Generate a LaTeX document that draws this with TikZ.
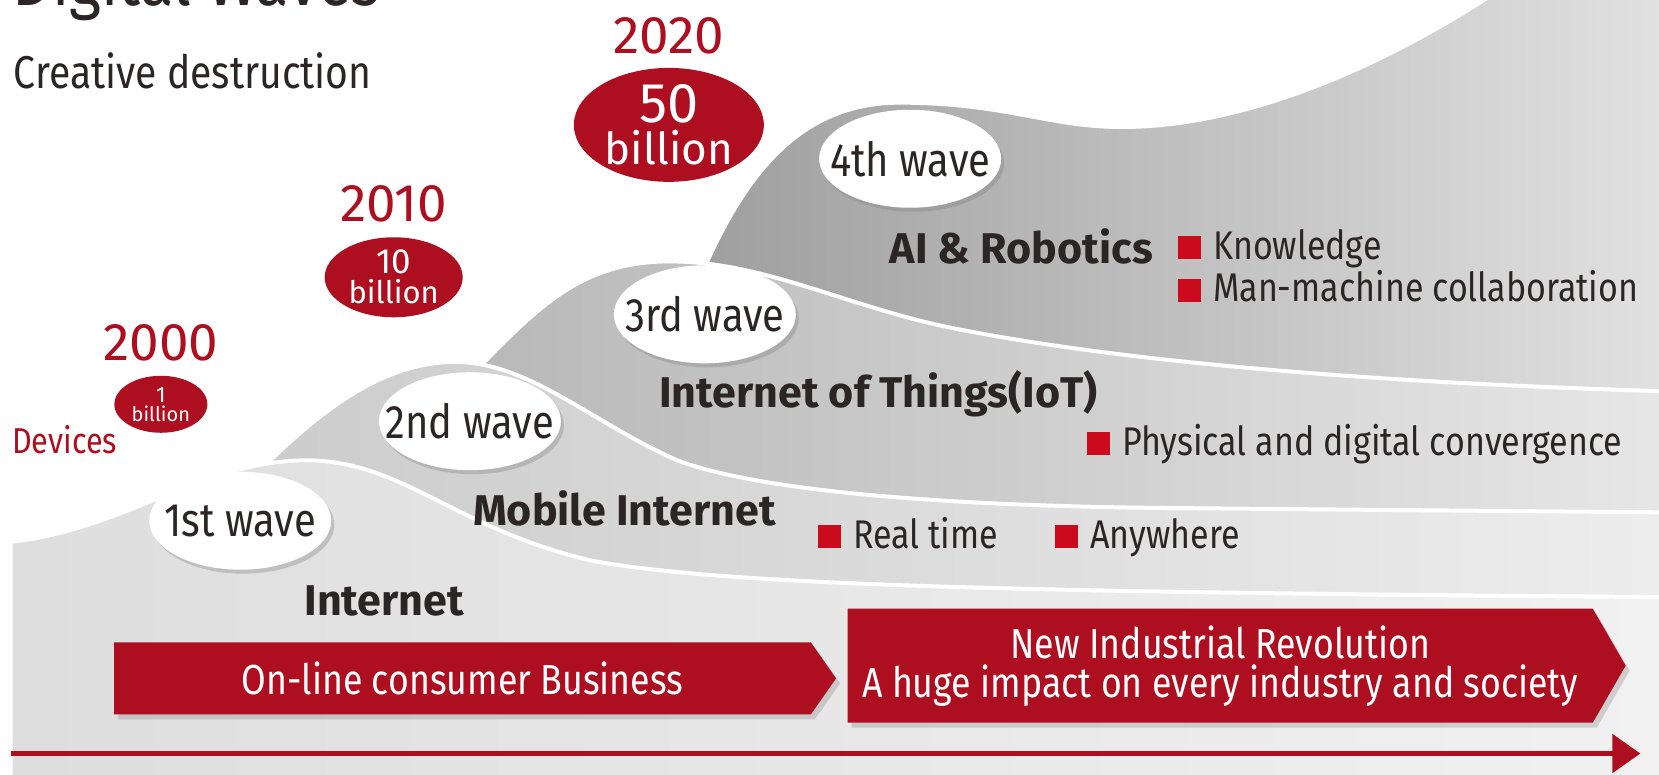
\documentclass[tikz,border=0pt]{standalone}
\usepackage{fontspec}
\setmainfont[FakeStretch=0.85]{Fira Sans}
\newfontfamily\breit{Fira Sans}
\usepackage{xcolor}
\usepackage{tikz}
\usetikzlibrary{shapes.geometric}
\usetikzlibrary{shapes.symbols}
\usetikzlibrary{shadows}
\usetikzlibrary{arrows.meta}
\usetikzlibrary{positioning}
\definecolor{fjred}{HTML}{AE0F20}
\definecolor{punktrot}{HTML}{CC0A1E}
\definecolor{schrift}{HTML}{2B2525}
\newcommand{\Gr}[1]{\fontsize{#1}{#1}\selectfont}
\newcommand{\Gs}[2]{\fontsize{#1}{#2}\selectfont}
\newcommand{\Kasten}{\textcolor{punktrot}{\rule{23pt}{23pt}}\hspace{12pt}}
\newcommand{\Mitte}[1]{\makebox[0pt]{#1}}
\tikzset{
  Welle/.style={draw=white, line width=4pt}, % Wellenflaechen
  Blase/.style={ellipse, fill=white, text=schrift, font=\Gr{47}, inner sep=0pt,
    minimum width=182pt, minimum height=98pt,
    drop shadow={opacity=.35, shadow xshift=3pt, shadow yshift=-4pt}}, % weisse Ellipsen
  Zahl/.style={ellipse, fill=fjred, text=white, align=center, inner sep=0pt}, % rote Ellipsen
  Jahr/.style={text=fjred, font=\breit\Gr{53}, inner sep=0pt}, % Jahreszahlen
  Titel/.style={text=schrift, font=\breit\bfseries\Gr{43}, inner sep=0pt}, % Wellennamen
  Punkt/.style={text=schrift, font=\Gr{40}, inner sep=0pt, anchor=base west}, % Stichpunkte
  Band/.style={signal, signal to=east, fill=fjred, text=white, align=center, inner sep=0pt,
    font=\Gs{42}{39}, drop shadow={opacity=.3, shadow xshift=4pt, shadow yshift=-5pt}} % rote Pfeile
}

\begin{document}
\begin{tikzpicture}[x=1.0583pt, y=-1.0583pt, >=latex]
\useasboundingbox (0,0) rectangle (1659pt,-774pt);

%Wellen
\path[Welle, left color=black!38, right color=black!9]
  (650,290) .. controls (690,190) and (740,97) .. (850,97)
  .. controls (950,97) and (990,120) .. (1060,120)
  .. controls (1180,120) and (1310,60) .. (1410,-5)
  -- (1670,-5) -- (1670,420) -- (650,420) -- cycle;
\path[Welle, left color=black!28, right color=black!8]
  (430,370) .. controls (500,300) and (540,248) .. (630,247)
  .. controls (720,246) and (800,290) .. (900,310)
  .. controls (1050,340) and (1300,365) .. (1670,372)
  -- (1670,600) -- (430,600) -- cycle;
\path[Welle, left color=black!20, right color=black!6]
  (240,450) .. controls (300,390) and (360,342) .. (430,342)
  .. controls (500,342) and (560,400) .. (640,435)
  .. controls (720,465) and (900,478) .. (1100,480)
  -- (1670,485) -- (1670,700) -- (240,700) -- cycle;
\path[Welle, left color=black!13, right color=black!5]
  (10,512) .. controls (120,500) and (190,435) .. (290,435)
  .. controls (380,435) and (430,500) .. (560,530)
  .. controls (700,555) and (1000,560) .. (1670,565)
  -- (1670,790) -- (10,790) -- cycle;

%Ueberschrift
\node[anchor=base west, text=schrift, font=\Gr{72}, inner sep=0pt] (Kopf) at (12,5) {Digital Waves};
\node[anchor=base west, text=schrift, font=\Gr{46}, inner sep=0pt] (Unterkopf) at (13,84) {Creative destruction};

%Geraete
\node[Zahl, minimum width=190pt, minimum height=110pt, font=\breit\Gs{44}{42}] (Z2020) at (632,118)
  {{\Gs{56}{42}50}\\billion};
\node[Zahl, minimum width=138pt, minimum height=80pt, font=\breit\Gs{31}{30}] (Z2010) at (372,262)
  {{\Gs{35}{30}10}\\billion};
\node[Zahl, minimum width=93pt, minimum height=57pt, font=\breit\Gs{20}{19}] (Z2000) at (152,382)
  {{\Gs{22}{19}1}\\billion};
\node[Jahr, above=13pt of Z2020] (J2020) {2020};
\node[Jahr, above=15pt of Z2010] (J2010) {2010};
\node[Jahr, above=14pt of Z2000] (J2000) {2000};
\node[text=fjred, font=\Gr{36}, inner sep=0pt] (Geraete) at (61,415) {Devices};

%Wellenblasen
\node[Blase] (W4) at (860,150) {\Mitte{4th wave}};
\node[Blase] (W3) at (666,297) {\Mitte{3rd wave}};
\node[Blase] (W2) at (444,398) {\Mitte{2nd wave}};
\node[Blase] (W1) at (227,492) {\Mitte{1st wave}};

%Beschriftungen
\node[Titel] (KI) at (965,233) {AI \& Robotics};
\node[Titel] (IoT) at (830,372) {Internet of Things(IoT)};
\node[Titel] (Mobil) at (590,480) {Mobile Internet};
\node[Titel] (Netz) at (363,568) {Internet};
\node[Punkt] (P41) at (1113,245) {\Kasten Knowledge};
\node[Punkt] (P42) at (1113,285) {\Kasten Man-machine collaboration};
\node[Punkt] (P31) at (1027,430) {\Kasten Physical and digital convergence};
\node[Punkt] (P21) at (773,518) {\Kasten Real time};
\node[Punkt] (P22) at (997,518) {\Kasten Anywhere};

%Pfeile
\node[Band, minimum width=722pt, minimum height=72pt, signal pointer angle=110] (Online) at (437,641)
  {On-line consumer Business};
\node[Band, minimum width=778pt, minimum height=114pt, signal pointer angle=120] (Neu) at (1153,629)
  {New Industrial Revolution\\A huge impact on every industry and society};
\coordinate (Start) at (10,712);
\coordinate (Ende) at (1550,712);
\draw[fjred, line width=5pt, -{Triangle[length=28pt, width=38pt]}] (Start) -- (Ende);

\end{tikzpicture}
\end{document}
